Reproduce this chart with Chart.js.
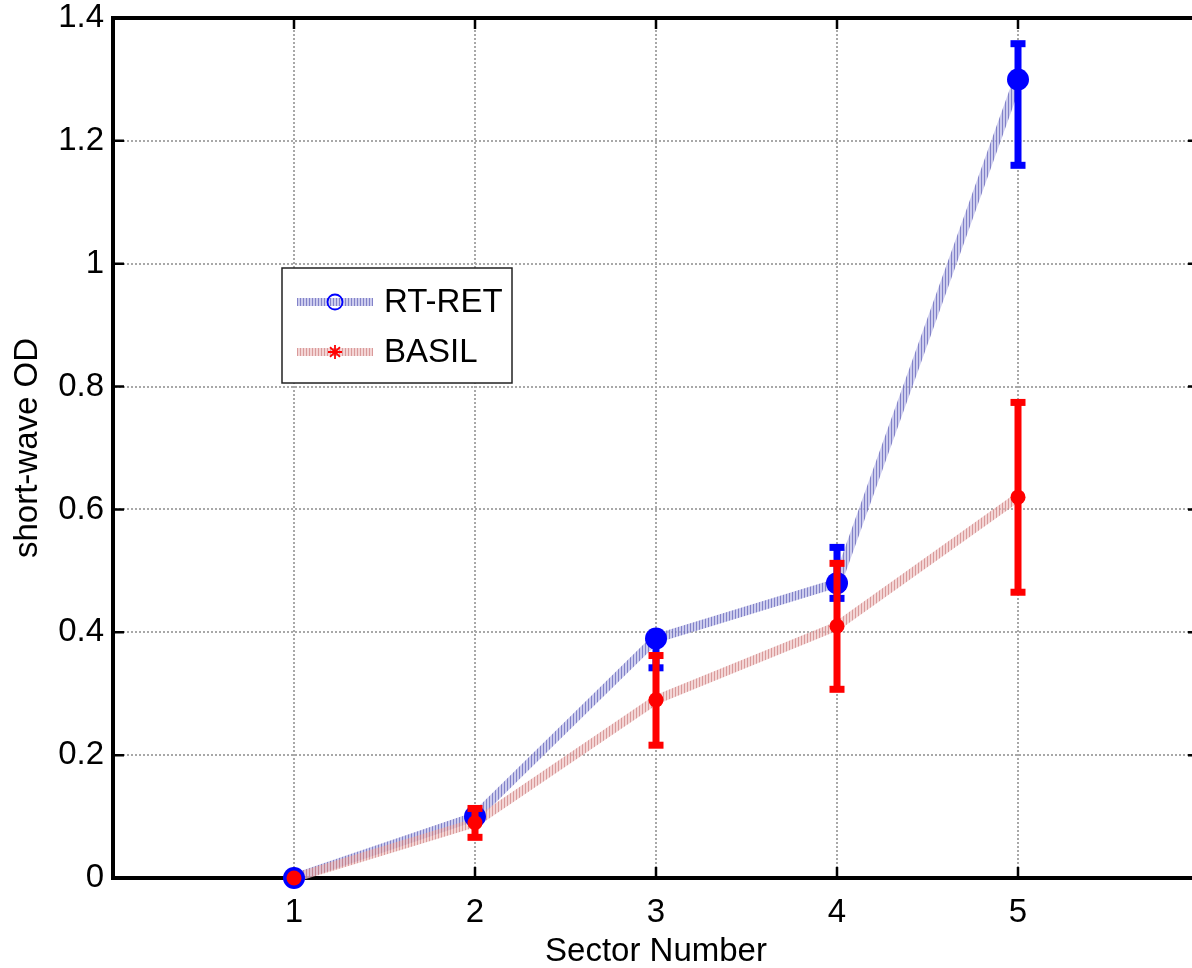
<!DOCTYPE html>
<html>
<head>
<meta charset="utf-8">
<script src="https://cdn.jsdelivr.net/npm/chart.js@4.4.1/dist/chart.umd.min.js"></script>
<style>
  html, body { margin: 0; padding: 0; background: #fff; overflow: hidden; }
  #wrap { width: 1210px; height: 968px; }
</style>
</head>
<body>
<div id="wrap"><canvas id="c" width="1210" height="968"></canvas></div>
<script>
// ---- data ----
const categories = [1, 2, 3, 4, 5];
const rtRet      = [0, 0.10, 0.39, 0.48, 1.30];
const rtRetLow   = [0, 0.10, 0.343, 0.456, 1.161];
const rtRetHigh  = [0, 0.10, 0.39, 0.539, 1.359];
const basil      = [0, 0.09, 0.29, 0.41, 0.62];
const basilLow   = [0, 0.067, 0.217, 0.308, 0.466];
const basilHigh  = [0, 0.114, 0.363, 0.513, 0.775];
const xTickValues = [1, 2, 3, 4, 5];
const yTickValues = [0, 0.2, 0.4, 0.6, 0.8, 1.0, 1.2, 1.4];
const seriesNames = ['RT-RET', 'BASIL'];
const xTitle = 'Sector Number';
const yTitle = 'short-wave OD';

const FONT = '"Liberation Sans", Arial, Helvetica, sans-serif';
const FS = 33;

function hatch(base, stripe) {
  const c = document.createElement('canvas');
  c.width = 3; c.height = 3;
  const g = c.getContext('2d');
  g.fillStyle = base; g.fillRect(0, 0, 3, 3);
  g.fillStyle = stripe;
  g.fillRect(0, 0, 1, 3);
  return g.createPattern(c, 'repeat');
}
const bluePattern = hatch('rgba(170,170,225,0.6)', 'rgba(80,80,175,0.6)');
const redPattern  = hatch('rgba(235,185,185,0.6)', 'rgba(200,115,115,0.6)');

const pts = (ys) => categories.map((x, i) => ({ x: x, y: ys[i] }));

const errorBarPlugin = {
  id: 'errorBars',
  beforeDatasetDraw(chart, args) {
    const ds = chart.data.datasets[args.index];
    if (!ds.errLow) return;
    const xs = chart.scales.x, ys = chart.scales.y, ctx = chart.ctx;
    ctx.save();
    ctx.fillStyle = ds.errColor;
    categories.forEach((cx, i) => {
      const lo = ds.errLow[i], hi = ds.errHigh[i];
      if (lo === hi) return;
      const px = xs.getPixelForValue(cx);
      const pLo = ys.getPixelForValue(lo), pHi = ys.getPixelForValue(hi);
      ctx.fillRect(px - 3.5, pHi, 7, pLo - pHi);
      ctx.fillRect(px - 7.5, pHi - 3, 15, 7);
      ctx.fillRect(px - 7.5, pLo - 3, 15, 7);
    });
    ctx.restore();
  }
};

const framePlugin = {
  id: 'frame',
  beforeDatasetsDraw(chart) {
    const { ctx, chartArea: a, scales: { x, y } } = chart;
    ctx.save();
    ctx.strokeStyle = '#000';
    ctx.lineWidth = 2.5;
    ctx.beginPath();
    yTickValues.forEach(v => {
      const py = y.getPixelForValue(v);
      ctx.moveTo(a.left, py); ctx.lineTo(a.left + 11, py);
      ctx.moveTo(a.right, py); ctx.lineTo(a.right - 11, py);
    });
    xTickValues.forEach(v => {
      const px = x.getPixelForValue(v);
      ctx.moveTo(px, a.bottom); ctx.lineTo(px, a.bottom - 11);
      ctx.moveTo(px, a.top); ctx.lineTo(px, a.top + 11);
    });
    ctx.stroke();
    ctx.lineWidth = 4;
    ctx.beginPath();
    ctx.moveTo(a.left - 2, a.top); ctx.lineTo(a.right, a.top); ctx.lineTo(a.right, a.bottom);
    ctx.stroke();
    ctx.restore();
  },
  afterDraw(chart) {
    const ctx = chart.ctx;
    const bx = 282, by = 268, bw = 230, bh = 115;
    ctx.save();
    ctx.fillStyle = '#fff';
    ctx.fillRect(bx, by, bw, bh);
    ctx.strokeStyle = '#222';
    ctx.lineWidth = 1.5;
    ctx.strokeRect(bx, by, bw, bh);
    const rows = [
      { y: by + 34, pat: bluePattern, name: seriesNames[0], mark: 'circle' },
      { y: by + 84, pat: redPattern, name: seriesNames[1], mark: 'star' }
    ];
    rows.forEach(r => {
      ctx.strokeStyle = r.pat;
      ctx.lineWidth = 8;
      ctx.beginPath(); ctx.moveTo(bx + 15, r.y); ctx.lineTo(bx + 91, r.y); ctx.stroke();
      const mx = bx + 53;
      if (r.mark === 'circle') {
        ctx.strokeStyle = '#0000ff'; ctx.lineWidth = 1.8;
        ctx.beginPath(); ctx.arc(mx, r.y, 7.5, 0, Math.PI * 2); ctx.stroke();
      } else {
        ctx.strokeStyle = '#ff0000'; ctx.lineWidth = 1.8;
        ctx.beginPath();
        for (let k = 0; k < 4; k++) {
          const ang = k * Math.PI / 4;
          ctx.moveTo(mx - 7 * Math.cos(ang), r.y - 7 * Math.sin(ang));
          ctx.lineTo(mx + 7 * Math.cos(ang), r.y + 7 * Math.sin(ang));
        }
        ctx.stroke();
      }
      ctx.fillStyle = '#000';
      ctx.font = FS + 'px ' + FONT;
      ctx.textBaseline = 'middle';
      ctx.textAlign = 'left';
      ctx.fillText(r.name, bx + 102, r.y + 1);
    });
    ctx.restore();
  }
};

new Chart(document.getElementById('c'), {
  type: 'scatter',
  data: {
    datasets: [
      { label: seriesNames[0] + ' line', data: pts(rtRet), showLine: true, borderColor: bluePattern,
        borderWidth: 9, pointRadius: 0, order: 10, clip: false },
      { label: seriesNames[1] + ' line', data: pts(basil), showLine: true, borderColor: redPattern,
        borderWidth: 9, pointRadius: 0, order: 9, clip: false },
      { label: seriesNames[0], data: pts(rtRet), showLine: false, pointRadius: 11, pointHoverRadius: 11,
        backgroundColor: '#0000ff', borderColor: '#0000ff', borderWidth: 0, order: 2, clip: false,
        errLow: rtRetLow, errHigh: rtRetHigh, errColor: '#0000ff' },
      { label: seriesNames[1], data: pts(basil), showLine: false, pointRadius: 7.5, pointHoverRadius: 7.5,
        backgroundColor: '#ff0000', borderColor: '#ff0000', borderWidth: 0, order: 1, clip: false,
        errLow: basilLow, errHigh: basilHigh, errColor: '#ff0000' }
    ]
  },
  options: {
    responsive: false,
    animation: false,
    events: [],
    layout: { padding: { top: 18, right: 6, left: 0, bottom: 0 } },
    plugins: { legend: { display: false }, tooltip: { enabled: false } },
    scales: {
      x: {
        type: 'linear', min: 0, max: 6,
        afterBuildTicks: (axis) => { axis.ticks = xTickValues.map(v => ({ value: v })); },
        afterFit: (axis) => { axis.height = 90; axis.paddingLeft = 0; axis.paddingRight = 0; },
        ticks: { color: '#000', font: { family: FONT, size: FS, lineHeight: 1.1 }, padding: 17, maxRotation: 0,
                 callback: (v) => String(v) },
        grid: { color: '#a8a8a8', lineWidth: 2, drawTicks: false },
        border: { display: true, color: '#000', width: 4, dash: [2, 2] },
        title: { display: true, text: xTitle, color: '#000', font: { family: FONT, size: FS, lineHeight: 1.0 },
                 padding: { top: 0, bottom: 0 } }
      },
      y: {
        type: 'linear', min: 0, max: 1.4,
        afterBuildTicks: (axis) => { axis.ticks = yTickValues.map(v => ({ value: v })); },
        afterFit: (axis) => { axis.width = 113; axis.paddingTop = 0; axis.paddingBottom = 0; },
        ticks: { color: '#000', font: { family: FONT, size: FS }, padding: 9,
                 callback: (v) => String(Number(v.toFixed(1))) },
        grid: { color: '#a8a8a8', lineWidth: 2, drawTicks: false },
        border: { display: true, color: '#000', width: 4, dash: [2, 2] },
        title: { display: true, text: yTitle, color: '#000', font: { family: FONT, size: FS, lineHeight: 1.1 },
                 padding: { top: 10, bottom: 0 } }
      }
    }
  },
  plugins: [errorBarPlugin, framePlugin]
});
</script>
</body>
</html>
